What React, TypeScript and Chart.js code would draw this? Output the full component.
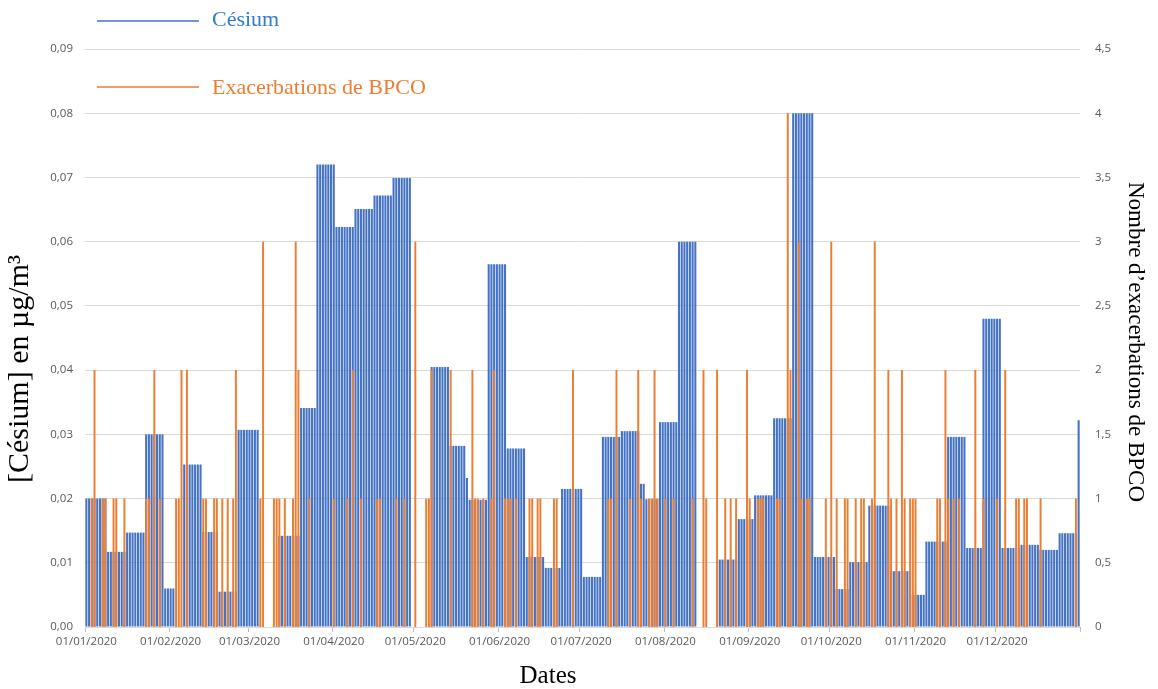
import React, { useEffect, useRef } from 'react';
import { Chart, registerables } from 'chart.js';

Chart.register(...registerables);

// ---- Data ----
const dayCount = 366; // 01/01/2020 .. 31/12/2020
const monthStartDays = [0, 31, 60, 91, 121, 152, 182, 213, 244, 274, 305, 335];
const monthLabels = [
  '01/01/2020', '01/02/2020', '01/03/2020', '01/04/2020', '01/05/2020', '01/06/2020',
  '01/07/2020', '01/08/2020', '01/09/2020', '01/10/2020', '01/11/2020', '01/12/2020',
];

// Caesium: weekly measurement, value holds from start day until the next start day
const cesiumStartDays = [
  0, 8, 15, 22, 29, 33, 36, 43, 49, 56,
  64, 71, 79, 85, 92, 99, 106, 113, 120, 127,
  134, 140, 141, 148, 155, 162, 169, 175, 183, 190,
  197, 204, 206, 211, 218, 225, 233, 240, 246, 253,
  260, 268, 276, 281, 288, 296, 304, 309, 317, 324,
  330, 337, 344, 351, 358, 365,
];
const cesiumValues = [
  0.02, 0.0117, 0.0147, 0.030, 0.006, 0, 0.0253, 0.0148, 0.0055, 0.0307,
  0, 0.0142, 0.0341, 0.072, 0.0623, 0.0651, 0.0672, 0.0699, 0, 0.0405,
  0.0282, 0.0232, 0.0198, 0.0565, 0.0278, 0.0109, 0.0092, 0.0215, 0.0078, 0.0296,
  0.0305, 0.0223, 0.0199, 0.0319, 0.06, 0, 0.0105, 0.0168, 0.0205, 0.0325,
  0.08, 0.0109, 0.0059, 0.0101, 0.0189, 0.0087, 0.005, 0.0133, 0.0296, 0.0123,
  0.048, 0.0123, 0.0128, 0.012, 0.0146, 0.0322,
];

// COPD exacerbations: days (index from 01/01/2020) with their count
const exacDays = [
  2, 3, 6, 7, 10, 11, 14, 22, 23, 25, 27, 33, 34, 35, 37, 43, 44, 47, 48, 50,
  52, 54, 55, 64, 65, 69, 70, 71, 73, 76, 77, 78, 82, 91, 96, 98, 101, 107, 108, 114,
  117, 121, 125, 126, 127, 134, 142, 143, 144, 146, 149, 150, 154, 155, 156, 158, 163, 164, 166, 167,
  172, 173, 179, 192, 193, 195, 200, 203, 204, 207, 208, 209, 210, 213, 216, 223, 227, 228, 232, 235,
  237, 239, 243, 244, 247, 248, 249, 254, 255, 258, 259, 262, 263, 265, 266, 272, 274, 276, 279, 280,
  283, 285, 286, 289, 290, 295, 296, 298, 300, 301, 303, 304, 305, 313, 314, 316, 317, 319, 321, 327,
  330, 335, 338, 342, 343, 345, 346, 351, 364,
];
const exacCounts = [
  1, 2, 1, 1, 1, 1, 1, 1, 1, 2, 1, 1, 1, 2, 2, 1, 1, 1, 1, 1,
  1, 1, 2, 1, 3, 1, 1, 1, 1, 1, 3, 2, 1, 1, 1, 2, 1, 1, 1, 1,
  1, 3, 1, 1, 2, 2, 2, 1, 1, 1, 1, 2, 1, 1, 1, 1, 1, 1, 1, 1,
  1, 1, 2, 1, 1, 2, 1, 2, 1, 1, 1, 2, 1, 1, 1, 1, 2, 1, 2, 1,
  1, 1, 2, 1, 1, 1, 1, 1, 1, 4, 2, 3, 1, 1, 1, 1, 3, 1, 1, 1,
  1, 1, 1, 1, 3, 2, 1, 1, 2, 1, 1, 1, 1, 1, 1, 2, 1, 1, 1, 2,
  1, 1, 2, 1, 1, 1, 1, 1, 1,
];

// ---- Build daily tables ----
const dayLabels: string[] = [];
const cesiumDaily: number[] = [];
const exacDaily: number[] = [];
for (let d = 0; d < dayCount; d++) {
  dayLabels.push(String(d));
  let v = 0;
  for (let i = 0; i < cesiumStartDays.length; i++) {
    if (cesiumStartDays[i] <= d) v = cesiumValues[i];
  }
  cesiumDaily.push(v);
  exacDaily.push(0);
}
exacDays.forEach((d, i) => {
  exacDaily[d] = exacCounts[i];
});

const BLUE = '#4472C4';
const ORANGE = '#ED7D31';
const SERIF = '"Liberation Serif", "Times New Roman", serif';
const SANS = '"Open Sans", "Noto Sans", sans-serif';

const titlesPlugin = {
  id: 'titlesAndLegend',
  afterDraw(chart: any) {
    const ctx = chart.ctx as CanvasRenderingContext2D;
    ctx.save();
    // Legend
    ctx.lineWidth = 1.5;
    ctx.strokeStyle = BLUE;
    ctx.beginPath();
    ctx.moveTo(97, 21);
    ctx.lineTo(199, 21);
    ctx.stroke();
    ctx.strokeStyle = ORANGE;
    ctx.beginPath();
    ctx.moveTo(97, 87);
    ctx.lineTo(199, 87);
    ctx.stroke();
    ctx.font = `22px ${SERIF}`;
    ctx.textBaseline = 'middle';
    ctx.textAlign = 'left';
    ctx.fillStyle = '#2F7BD2';
    ctx.fillText('Césium', 212, 20);
    ctx.fillStyle = ORANGE;
    ctx.fillText('Exacerbations de BPCO', 212, 88);

    // Axis titles
    ctx.fillStyle = '#000';
    ctx.textAlign = 'center';
    ctx.font = `25px ${SERIF}`;
    ctx.fillText('Dates', 548, 676);

    ctx.save();
    ctx.translate(20, 369);
    ctx.rotate(-Math.PI / 2);
    ctx.font = `30px ${SERIF}`;
    ctx.fillText('[Césium] en µg/m³', 0, 0);
    ctx.restore();

    ctx.save();
    ctx.translate(1135, 342);
    ctx.rotate(Math.PI / 2);
    ctx.font = `23px ${SERIF}`;
    ctx.fillText('Nombre d\u2019exacerbations de BPCO', 0, 0);
    ctx.restore();

    ctx.restore();
  },
};

export default function App() {
  const canvasRef = useRef<HTMLCanvasElement | null>(null);

  useEffect(() => {
    document.body.style.margin = '0';
    const canvas = canvasRef.current;
    if (!canvas) return;
    const labelByDay: Record<number, string> = {};
    monthStartDays.forEach((d, i) => {
      labelByDay[d] = monthLabels[i];
    });
    const chart = new Chart(canvas, {
      type: 'bar',
      data: {
        labels: dayLabels,
        datasets: [
          {
            label: 'Exacerbations de BPCO',
            data: exacDaily,
            yAxisID: 'y1',
            backgroundColor: ORANGE,
            grouped: false,
            barPercentage: 0.72,
            categoryPercentage: 1,
            order: 0,
          } as any,
          {
            label: 'Césium',
            data: cesiumDaily,
            yAxisID: 'y',
            backgroundColor: BLUE,
            grouped: false,
            barPercentage: 0.76,
            categoryPercentage: 1,
            order: 1,
          } as any,
        ],
      },
      options: {
        animation: false,
        responsive: false,
        devicePixelRatio: 1,
        layout: { padding: { top: 49, left: 0, right: 0, bottom: 0 } },
        plugins: {
          legend: { display: false },
          tooltip: { enabled: false },
        },
        scales: {
          x: {
            type: 'category',
            offset: true,
            grid: {
              display: true,
              offset: true,
              drawOnChartArea: false,
              drawTicks: true,
              tickLength: 5,
              color: (c: any) =>
                c.index === undefined || labelByDay[c.index] !== undefined ? '#BFBFBF' : 'rgba(0,0,0,0)',
            },
            border: { display: false },
            ticks: {
              autoSkip: false,
              maxRotation: 0,
              minRotation: 0,
              padding: 3,
              color: '#595959',
              font: { family: SANS, size: 11.5 },
              callback: (_v: any, i: number) => labelByDay[i] ?? '',
            },
            afterFit: (s: any) => {
              s.height = 62;
            },
          },
          y: {
            position: 'left',
            min: 0,
            max: 0.09,
            ticks: {
              stepSize: 0.01,
              padding: 12,
              color: '#595959',
              font: { family: SANS, size: 11.5 },
              callback: (v: any) => Number(v).toFixed(2).replace('.', ','),
            },
            grid: { color: '#D9D9D9', lineWidth: 1, drawTicks: false },
            border: { display: false },
            afterFit: (s: any) => {
              s.width = 85;
            },
          },
          y1: {
            position: 'right',
            min: 0,
            max: 4.5,
            ticks: {
              stepSize: 0.5,
              padding: 15,
              color: '#595959',
              font: { family: SANS, size: 11.5 },
              callback: (v: any) => String(Number(v)).replace('.', ','),
            },
            grid: { display: false, drawTicks: false },
            border: { display: false },
            afterFit: (s: any) => {
              s.width = 78;
            },
          },
        },
      } as any,
      plugins: [titlesPlugin],
    });
    return () => chart.destroy();
  }, []);

  return (
    <div style={{ width: 1158, height: 689, background: '#fff' }}>
      <canvas ref={canvasRef} width={1158} height={689} style={{ display: 'block' }} />
    </div>
  );
}
